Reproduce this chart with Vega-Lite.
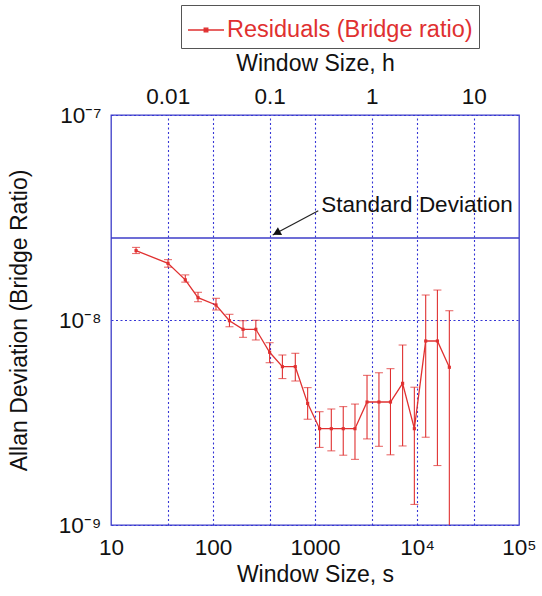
{
  "$schema": "https://vega.github.io/schema/vega-lite/v6.json",
  "width": 408,
  "height": 410,
  "autosize": {"type": "none"},
  "padding": {"left": 111, "top": 115, "right": 23, "bottom": 71},
  "background": "white",
  "config": {
    "font": "Liberation Sans",
    "view": {"stroke": "#3c3cc8", "strokeWidth": 1.3},
    "axis": {
      "domain": false,
      "ticks": false,
      "grid": true,
      "gridColor": "#3535d5",
      "gridDash": [2, 2.5],
      "gridWidth": 1.1,
      "gridOpacity": 1,
      "labelFont": "Liberation Sans",
      "labelFontSize": 22.5,
      "labelColor": "#111",
      "titleFont": "Liberation Sans",
      "titleFontSize": 23,
      "titleFontWeight": "normal",
      "titleColor": "#111"
    }
  },
  "resolve": {"axis": {"x": "independent"}},
  "layer": [
    {
      "data": {"name": "sd", "values": [{"sd": 2.51e-8}]},
      "mark": {"type": "rule", "color": "#3c3cc8", "strokeWidth": 1.4},
      "encoding": {
        "y": {"field": "sd", "type": "quantitative", "scale": {"type": "log", "domain": [1e-9, 1e-7], "nice": false},
          "title": "Allan Deviation (Bridge Ratio)",
          "axis": {"values": [1e-9, 1e-8, 1e-7], "grid": true, "gridColor": "#3535d5",
            "labelExpr": "datum.value < 5e-9 ? '10⁻⁹' : datum.value < 5e-8 ? '10⁻⁸' : '10⁻⁷'",
            "labelPadding": 10, "titlePadding": 27, "labelFlush": false}}
      }
    },
    {
      "data": {"name": "res", "values": [
        {"t": 17.6, "adev": 2.18e-8, "lo": 2.11e-8, "hi": 2.26e-8, "capLo": 2.11e-8},
        {"t": 36.2, "adev": 1.89e-8, "lo": 1.81e-8, "hi": 1.97e-8, "capLo": 1.81e-8},
        {"t": 53.5, "adev": 1.57e-8, "lo": 1.53e-8, "hi": 1.66e-8, "capLo": 1.53e-8},
        {"t": 71.3, "adev": 1.285e-8, "lo": 1.228e-8, "hi": 1.365e-8, "capLo": 1.228e-8},
        {"t": 107, "adev": 1.184e-8, "lo": 1.119e-8, "hi": 1.276e-8, "capLo": 1.119e-8},
        {"t": 145, "adev": 0.992e-8, "lo": 0.927e-8, "hi": 1.066e-8, "capLo": 0.927e-8},
        {"t": 197, "adev": 0.901e-8, "lo": 0.823e-8, "hi": 0.992e-8, "capLo": 0.823e-8},
        {"t": 263, "adev": 0.901e-8, "lo": 0.799e-8, "hi": 0.997e-8, "capLo": 0.799e-8},
        {"t": 359, "adev": 0.696e-8, "lo": 0.619e-8, "hi": 0.775e-8, "capLo": 0.619e-8},
        {"t": 479, "adev": 0.592e-8, "lo": 0.518e-8, "hi": 0.675e-8, "capLo": 0.518e-8},
        {"t": 641, "adev": 0.592e-8, "lo": 0.504e-8, "hi": 0.688e-8, "capLo": 0.504e-8},
        {"t": 847, "adev": 3.92e-9, "lo": 3.28e-9, "hi": 4.68e-9, "capLo": 3.28e-9},
        {"t": 1109, "adev": 2.95e-9, "lo": 2.39e-9, "hi": 3.57e-9, "capLo": 2.39e-9},
        {"t": 1445, "adev": 2.95e-9, "lo": 2.30e-9, "hi": 3.68e-9, "capLo": 2.30e-9},
        {"t": 1892, "adev": 2.95e-9, "lo": 2.19e-9, "hi": 3.78e-9, "capLo": 2.19e-9},
        {"t": 2466, "adev": 2.95e-9, "lo": 2.09e-9, "hi": 3.89e-9, "capLo": 2.09e-9},
        {"t": 3236, "adev": 3.98e-9, "lo": 2.63e-9, "hi": 5.37e-9, "capLo": 2.63e-9},
        {"t": 4236, "adev": 3.98e-9, "lo": 2.42e-9, "hi": 5.53e-9, "capLo": 2.42e-9},
        {"t": 5495, "adev": 3.98e-9, "lo": 2.20e-9, "hi": 5.79e-9, "capLo": 2.20e-9},
        {"t": 7226, "adev": 4.91e-9, "lo": 2.43e-9, "hi": 7.55e-9, "capLo": 2.43e-9},
        {"t": 9420, "adev": 2.95e-9, "lo": 1.26e-9, "hi": 4.70e-9, "capLo": 1.26e-9},
        {"t": 12170, "adev": 7.90e-9, "lo": 2.68e-9, "hi": 1.324e-8, "capLo": 2.68e-9},
        {"t": 15850, "adev": 7.90e-9, "lo": 1.95e-9, "hi": 1.40e-8, "capLo": 1.95e-9},
        {"t": 20750, "adev": 5.88e-9, "lo": 1e-9, "hi": 1.11e-8, "capLo": null}
      ]},
      "layer": [
        {
          "mark": {"type": "rule", "color": "#e03030", "strokeWidth": 1.1},
          "encoding": {
            "x": {"field": "t", "type": "quantitative", "scale": {"type": "log", "domain": [10, 100000], "nice": false}, "axis": null},
            "y": {"field": "lo", "type": "quantitative"},
            "y2": {"field": "hi"}
          }
        },
        {
          "mark": {"type": "tick", "color": "#e03030", "orient": "horizontal", "size": 8, "thickness": 1.1},
          "encoding": {
            "x": {"field": "t", "type": "quantitative", "axis": null},
            "y": {"field": "hi", "type": "quantitative"}
          }
        },
        {
          "mark": {"type": "tick", "color": "#e03030", "orient": "horizontal", "size": 8, "thickness": 1.1},
          "encoding": {
            "x": {"field": "t", "type": "quantitative", "axis": null},
            "y": {"field": "capLo", "type": "quantitative"}
          }
        },
        {
          "mark": {"type": "line", "strokeWidth": 1.3},
          "encoding": {
            "x": {"field": "t", "type": "quantitative", "title": "Window Size, h",
              "axis": {"orient": "top", "values": [36, 100, 360, 1000, 3600, 10000, 36000], "grid": true, "gridColor": "#3535d5",
                "labelExpr": "datum.value == 36 ? '0.01' : datum.value == 360 ? '0.1' : datum.value == 3600 ? '1' : datum.value == 36000 ? '10' : ''",
                "labelPadding": 7, "titlePadding": 10, "labelFlush": false, "labelOverlap": false}},
            "y": {"field": "adev", "type": "quantitative"},
            "color": {"datum": "Residuals (Bridge ratio)", "type": "nominal",
              "scale": {"range": ["#e03030"]},
              "legend": {"orient": "none", "legendX": 70, "legendY": -110, "title": null,
                "labelFontSize": 23.5, "labelColor": "#e03030", "labelFont": "Liberation Sans", "labelLimit": 0,
                "strokeColor": "#555", "fillColor": "white", "padding": 6,
                "symbolType": "M-1,0L1,0M-0.1,-0.1L0.1,-0.1L0.1,0.1L-0.1,0.1Z",
                "symbolSize": 1300, "symbolStrokeWidth": 1.3, "symbolStrokeColor": "#e03030", "symbolFillColor": "#e03030", "labelOffset": 2}}
          }
        },
        {
          "mark": {"type": "point", "shape": "square", "filled": true, "color": "#e03030", "size": 10, "opacity": 1},
          "encoding": {
            "x": {"field": "t", "type": "quantitative", "title": "Window Size, s",
              "axis": {"orient": "bottom", "values": [10, 100, 1000, 10000, 100000], "grid": false,
                "labelExpr": "datum.value == 10000 ? '10⁴' : datum.value == 100000 ? '10⁵' : format(datum.value, 'd')",
                "labelPadding": 11, "titlePadding": 5, "labelFlush": false}},
            "y": {"field": "adev", "type": "quantitative"}
          }
        }
      ]
    },
    {
      "data": {"name": "ann", "values": [{"x": 1077, "y": 3.41e-8, "x2": 385, "y2": 2.6e-8, "label": "Standard Deviation", "tx": 1153, "ty": 3.64e-8, "hx": 420, "hy": 2.66e-8}]},
      "layer": [
        {
          "mark": {"type": "rule", "color": "#222", "strokeWidth": 1.2},
          "encoding": {
            "x": {"field": "x", "type": "quantitative", "axis": null},
            "y": {"field": "y", "type": "quantitative"},
            "x2": {"field": "x2"},
            "y2": {"field": "y2"}
          }
        },
        {
          "mark": {"type": "point", "shape": "triangle-up", "filled": true, "color": "#111", "size": 80, "angle": 242, "opacity": 1},
          "encoding": {
            "x": {"field": "hx", "type": "quantitative", "axis": null},
            "y": {"field": "hy", "type": "quantitative"}
          }
        },
        {
          "mark": {"type": "text", "align": "left", "baseline": "middle", "fontSize": 22.5, "font": "Liberation Sans", "color": "#111"},
          "encoding": {
            "x": {"field": "tx", "type": "quantitative", "axis": null},
            "y": {"field": "ty", "type": "quantitative"},
            "text": {"field": "label"}
          }
        }
      ]
    }
  ]
}
